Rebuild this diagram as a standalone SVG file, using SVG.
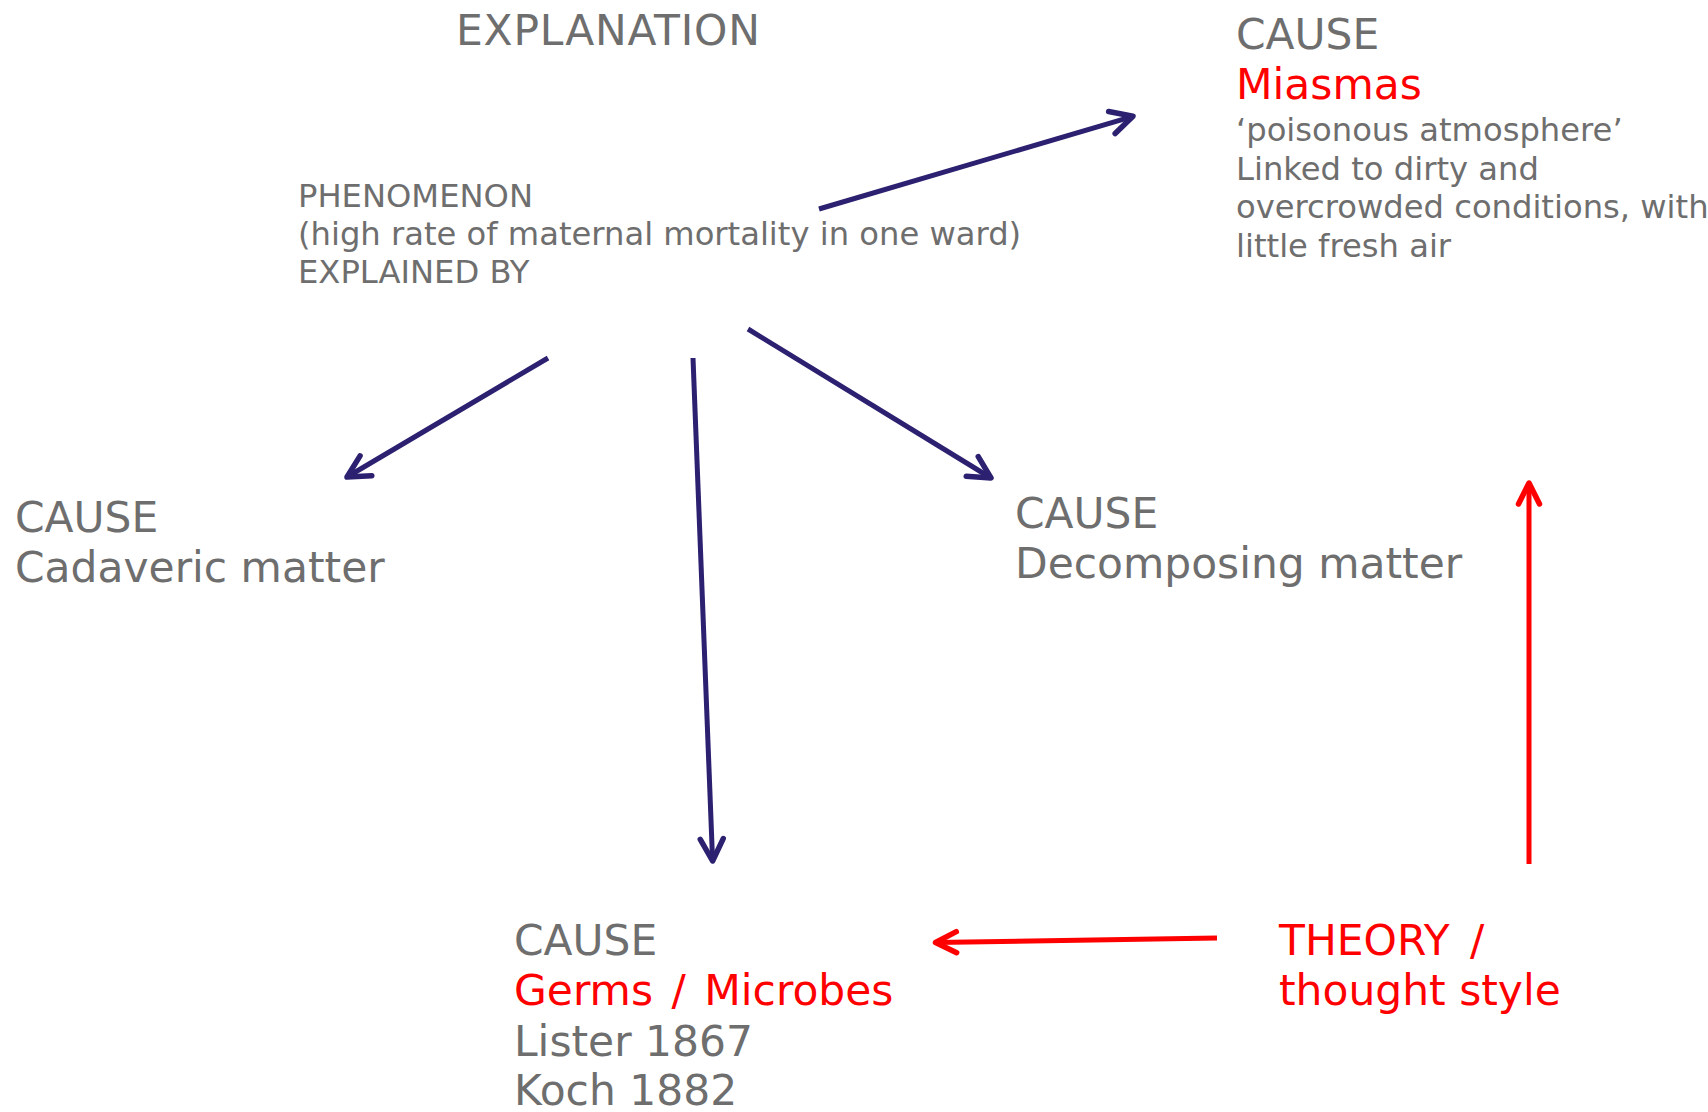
<svg xmlns="http://www.w3.org/2000/svg" width="1708" height="1112" viewBox="0 0 1708 1112">
<defs>
<style>
text{font-family:"DejaVu Sans","Verdana",sans-serif;fill:#6e6e6e}
.big{font-size:42.4px}
.small{font-size:32.2px}
.red{fill:#ff0000}
.blue{stroke:#2b2170;stroke-width:5;fill:none}
.redl{stroke:#ff0000;stroke-width:5;fill:none}
</style>
<marker id="ab" markerUnits="userSpaceOnUse" viewBox="-30 -20 40 40" markerWidth="40" markerHeight="40" refX="0" refY="0" orient="auto">
<path d="M-22,-11.5 L0,0 L-22,11.5" fill="none" stroke="#2b2170" stroke-width="5.5" stroke-linecap="round" stroke-linejoin="round"/>
</marker>
<marker id="ar" markerUnits="userSpaceOnUse" viewBox="-30 -20 40 40" markerWidth="40" markerHeight="40" refX="0" refY="0" orient="auto">
<path d="M-21,-10.5 L0,0 L-21,10.5" fill="none" stroke="#ff0000" stroke-width="5.5" stroke-linecap="round" stroke-linejoin="round"/>
</marker>
</defs>
<rect width="1708" height="1112" fill="#ffffff"/>
<g id="explanation"><text class="big" x="456" y="45" letter-spacing="0.8">EXPLANATION</text></g>
<g id="phenomenon">
<text class="small" x="298" y="207">PHENOMENON</text>
<text class="small" x="298" y="245">(high rate of maternal mortality in one ward)</text>
<text class="small" x="298" y="283">EXPLAINED BY</text>
</g>
<g id="cause-miasmas">
<text class="big" x="1236" y="49">CAUSE</text>
<text class="big red" x="1236" y="99">Miasmas</text>
<text class="small" x="1236" y="141">‘poisonous atmosphere’</text>
<text class="small" x="1236" y="179.5">Linked to dirty and</text>
<text class="small" x="1236" y="218">overcrowded conditions, with</text>
<text class="small" x="1236" y="256.5">little fresh air</text>
</g>
<g id="cause-cadaveric">
<text class="big" x="15" y="532">CAUSE</text>
<text class="big" x="15" y="582">Cadaveric matter</text>
</g>
<g id="cause-decomposing">
<text class="big" x="1015" y="528">CAUSE</text>
<text class="big" x="1015" y="578">Decomposing matter</text>
</g>
<g id="cause-germs">
<text class="big" x="514" y="955">CAUSE</text>
<text class="big red" x="514" y="1005" word-spacing="5">Germs / Microbes</text>
<text class="big" x="514" y="1055.5">Lister 1867</text>
<text class="big" x="514" y="1105">Koch 1882</text>
</g>
<g id="theory">
<text class="big red" x="1279" y="955" word-spacing="7">THEORY /</text>
<text class="big red" x="1279" y="1005">thought style</text>
</g>
<g id="connectors">
<line class="blue" x1="819" y1="209" x2="1133" y2="116.3" marker-end="url(#ab)"/>
<line class="blue" x1="548" y1="358" x2="347" y2="477" marker-end="url(#ab)"/>
<line class="blue" x1="693" y1="358" x2="712.6" y2="861" marker-end="url(#ab)"/>
<line class="blue" x1="748" y1="329" x2="991" y2="478" marker-end="url(#ab)"/>
<line class="redl" x1="1529" y1="864" x2="1529" y2="483" marker-end="url(#ar)"/>
<line class="redl" x1="1217" y1="938" x2="935.5" y2="942.5" marker-end="url(#ar)"/>
</g>
</svg>
